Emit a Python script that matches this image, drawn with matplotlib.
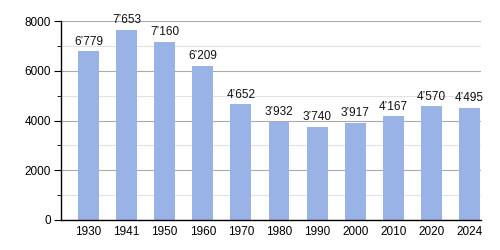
import numpy as np
import matplotlib.pyplot as plt
from matplotlib.ticker import MultipleLocator

years = ['1930', '1941', '1950', '1960', '1970', '1980', '1990', '2000', '2010', '2020', '2024']
population = [6779, 7653, 7160, 6209, 4652, 3932, 3740, 3917, 4167, 4570, 4495]

plt.rcParams['font.family'] = ['Liberation Sans', 'DejaVu Sans']

fig = plt.figure(figsize=(5, 2.5), dpi=100)
ax = fig.add_axes([0.122, 0.12, 0.84, 0.796])

x = np.arange(len(years))
ax.bar(x, population, width=0.55, color='#99b3e6', zorder=2)

for xi, v in zip(x, population):
    lab = f"{v:,}".replace(',', '\u2019')
    ax.text(xi, v + 150, lab, ha='center', va='bottom', fontsize=8.5, color='#111111')

ax.set_xlim(-0.72, 10.3)
ax.set_ylim(0, 8000)
ax.set_xticks(x)
ax.set_xticklabels(years)
ax.yaxis.set_major_locator(MultipleLocator(2000))
ax.yaxis.set_minor_locator(MultipleLocator(1000))
ax.grid(axis='y', which='major', color='#aaaaaa', linewidth=0.8, zorder=0)
ax.grid(axis='y', which='minor', color='#e2e2e2', linewidth=0.8, zorder=0)

for s in ['top', 'right']:
    ax.spines[s].set_visible(False)
ax.spines['left'].set_linewidth(1)
ax.spines['bottom'].set_linewidth(1)
ax.tick_params(axis='x', length=0, labelsize=8.5, pad=4)
ax.tick_params(axis='y', which='major', length=5, labelsize=8.5, pad=2)
ax.tick_params(axis='y', which='minor', length=3)

fig.savefig('out.png')
